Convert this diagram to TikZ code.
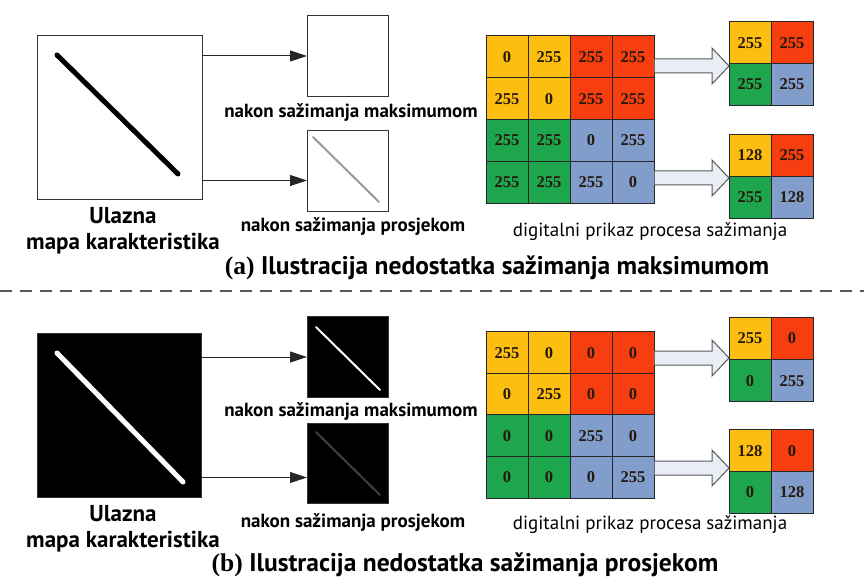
\documentclass[tikz,border=0pt]{standalone}
\usepackage{fontspec}
\setmainfont{PT Sans}
\newfontfamily\serifb{Liberation Serif}
\usetikzlibrary{arrows.meta,calc}
\definecolor{cy}{HTML}{FDBE12}
\definecolor{cr}{HTML}{F63E10}
\definecolor{cg}{HTML}{1EA64E}
\definecolor{cb}{HTML}{809DCC}
\definecolor{afill}{HTML}{E9EDF5}
\begin{document}
\begin{tikzpicture}[x=1pt,y=-1pt,
  box/.style={draw=black!80, line width=1pt, inner sep=0pt, anchor=north west},
  lbl/.style={font=\bfseries\fontsize{19}{21}\selectfont, inner sep=0pt},
  big/.style={font=\bfseries\fontsize{23}{26}\selectfont, inner sep=0pt, align=center},
  captext/.style={font=\bfseries\fontsize{25.5}{28}\selectfont, inner sep=0pt},
  dig/.style={font=\fontsize{19}{21}\selectfont, inner sep=0pt},
  cell/.style={draw=black!85, line width=0.8pt, minimum width=42pt, minimum height=42pt, inner sep=0pt, font=\serifb\bfseries\fontsize{16.5}{16.5}\selectfont, text=black!80!brown},
  conn/.style={-{Triangle[length=17pt,width=11pt]}, line width=1pt, draw=black!85},
  blk/.style={draw=black!65, fill=afill, line width=1pt, line join=miter}]
\useasboundingbox (0,0) rectangle (864,577);
\fill[white] (0,0) rectangle (864,577);

% ---------------- (a) ----------------
\node[box, minimum width=165pt, minimum height=164pt] (ina) at (37,35) {};
\draw[line width=5pt, line cap=round] (57,55) -- (178,174);
\node[box, minimum width=81pt, minimum height=81pt] (maxa) at (307,15) {};
\node[box, minimum width=81pt, minimum height=81pt] (avga) at (307,130) {};
\draw[line width=2pt, black!40, line cap=round] (313,137) -- (379,202);
\draw[conn] (ina.east |- maxa.west) -- (maxa.west);
\draw[conn] ($(ina.east |- avga.west)+(0,9.5)$) -- ($(avga.west)+(0,9.5)$);
\node[lbl] (lmaxa) at (351,113) {nakon sažimanja maksimumom};
\node[lbl] (lavga) at (353,227) {nakon sažimanja prosjekom};
\node[big] (lina) at (123,231) {Ulazna\\mapa karakteristika};

\foreach \row [count=\r from 0] in {{0/cy,255/cy,255/cr,255/cr},{255/cy,0/cy,255/cr,255/cr},{255/cg,255/cg,0/cb,255/cb},{255/cg,255/cg,255/cb,0/cb}}{
  \foreach \v/\col [count=\c from 0] in \row {
    \node[cell, fill=\col] (ga-\r-\c) at ({486+42*\c+21},{36+41.75*\r+20.9}) {\v};
  }
}
\foreach \row [count=\r from 0] in {{255/cy,255/cr},{255/cg,255/cb}}{
  \foreach \v/\col [count=\c from 0] in \row {
    \node[cell, fill=\col] (sa-\r-\c) at ({729+42*\c+21},{22+41.5*\r+20.75}) {\v};
  }
}
\foreach \row [count=\r from 0] in {{128/cy,255/cr},{255/cg,128/cb}}{
  \foreach \v/\col [count=\c from 0] in \row {
    \node[cell, fill=\col] (pa-\r-\c) at ({729+42*\c+21},{134+42*\r+21}) {\v};
  }
}
\coordinate (s1) at (654.5,66);
\coordinate (t1) at (729,66);
\coordinate (s2) at (654.5,178);
\coordinate (t2) at (729,178);
\foreach \s/\t in {s1/t1,s2/t2}{
  \draw[blk] ($(\s)+(0,-7)$) -- ($(\t)+(-17,-7)$) -- ($(\t)+(-17,-18)$) -- (\t) -- ($(\t)+(-17,18)$) -- ($(\t)+(-17,7)$) -- ($(\s)+(0,7)$);
}
\node[dig] (diga) at (650,232) {digitalni prikaz procesa sažimanja};
\node[captext] (capa) at (497,268) {{\serifb\bfseries (a)} Ilustracija nedostatka sažimanja maksimumom};

\draw[dash pattern=on 12pt off 8pt, line width=1.2pt, black!65] (0,291) -- (864,291);

% ---------------- (b) ----------------
\node[box, fill=black, minimum width=164pt, minimum height=164pt] (inb) at (37,333) {};
\draw[line width=5pt, white, line cap=round] (57,353) -- (183,482);
\node[box, fill=black, minimum width=81pt, minimum height=81pt] (maxb) at (307,316) {};
\draw[line width=2pt, white, line cap=round] (316,327) -- (380,390);
\node[box, fill=black, minimum width=81pt, minimum height=80pt] (avgb) at (307,423) {};
\draw[line width=2pt, black!75!white, line cap=round] (316,432) -- (380,495);
\draw[conn] (inb.east |- maxb.west) -- (maxb.west);
\draw[conn] ($(inb.east |- avgb.west)+(0,14)$) -- ($(avgb.west)+(0,14)$);
\node[lbl] (lmaxb) at (351,412) {nakon sažimanja maksimumom};
\node[lbl] (lavgb) at (353,523) {nakon sažimanja prosjekom};
\node[big] (linb) at (123,529) {Ulazna\\mapa karakteristika};

\foreach \row [count=\r from 0] in {{255/cy,0/cy,0/cr,0/cr},{0/cy,255/cy,0/cr,0/cr},{0/cg,0/cg,255/cb,0/cb},{0/cg,0/cg,0/cb,255/cb}}{
  \foreach \v/\col [count=\c from 0] in \row {
    \node[cell, fill=\col] (gb-\r-\c) at ({486+42*\c+21},{332+41.5*\r+20.75}) {\v};
  }
}
\foreach \row [count=\r from 0] in {{255/cy,0/cr},{0/cg,255/cb}}{
  \foreach \v/\col [count=\c from 0] in \row {
    \node[cell, fill=\col] (sb-\r-\c) at ({729+42*\c+21},{317+42.5*\r+21.25}) {\v};
  }
}
\foreach \row [count=\r from 0] in {{128/cy,0/cr},{0/cg,128/cb}}{
  \foreach \v/\col [count=\c from 0] in \row {
    \node[cell, fill=\col] (pb-\r-\c) at ({729+42*\c+21},{430+41.5*\r+20.75}) {\v};
  }
}
\coordinate (s3) at (654.5,358);
\coordinate (t3) at (729,358);
\coordinate (s4) at (654.5,468);
\coordinate (t4) at (729,468);
\foreach \s/\t in {s3/t3,s4/t4}{
  \draw[blk] ($(\s)+(0,-7)$) -- ($(\t)+(-17,-7)$) -- ($(\t)+(-17,-18)$) -- (\t) -- ($(\t)+(-17,18)$) -- ($(\t)+(-17,7)$) -- ($(\s)+(0,7)$);
}
\node[dig] (digb) at (650,525) {digitalni prikaz procesa sažimanja};
\node[captext] (capb) at (465,565) {{\serifb\bfseries (b)} Ilustracija nedostatka sažimanja prosjekom};
\end{tikzpicture}
\end{document}
